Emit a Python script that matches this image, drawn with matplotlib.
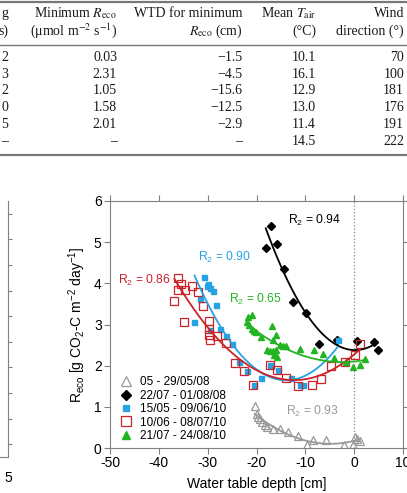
import matplotlib
matplotlib.use("Agg")
import matplotlib.pyplot as plt
import numpy as np

plt.rcParams['font.family'] = ['Liberation Sans', 'DejaVu Sans']
plt.rcParams['mathtext.fontset'] = 'custom'
plt.rcParams['mathtext.rm'] = 'Liberation Sans'
plt.rcParams['mathtext.it'] = 'Liberation Sans:italic'
plt.rcParams['mathtext.bf'] = 'Liberation Sans:bold'
plt.rcParams['axes.unicode_minus'] = False

# ---- table (top of the page) ----
col0_vals = ['2', '3', '2', '0', '5', '–']
min_reco = ['0.03', '2.31', '1.05', '1.58', '2.01', '–']
wtd_min = ['−1.5', '−4.5', '−15.6', '−12.5', '−2.9', '–']
mean_tair = ['10.1', '16.1', '12.9', '13.0', '11.4', '14.5']
wind_dir = ['70', '100', '181', '176', '191', '222']

# ---- chart data: water table depth (cm) vs Reco ----
gray_wtd = [-20.4, -19.8, -19.6, -19.3, -18.9, -18.3, -17.9, -16.7, -15.1, -13.6,
            -11.6, -9.6, -8.5, -5.7, -2.0, -0.3, 0.1, 0.6, 1.1]
gray_reco = [1.02, 0.82, 0.76, 0.70, 0.62, 0.55, 0.52, 0.47, 0.45, 0.38,
             0.28, 0.08, 0.20, 0.20, 0.08, 0.08, 0.27, 0.21, 0.17]

black_wtd = [-17.0, -18.1, -15.7, -14.4, -12.6, -9.9, -7.1, -3.5, 0.5, 4.0, 4.8]
black_reco = [5.40, 4.85, 4.96, 4.34, 3.54, 3.29, 2.53, 2.62, 2.61, 2.58, 2.38]

blue_wtd = [-30.7, -29.9, -30.2, -29.0, -29.6, -31.5, -28.3, -32.7, -29.5, -27.5, -26.2,
            -25.0, -23.6, -22.0, -20.5, -19.0, -17.3, -15.6, -13.0, -10.5, -11.1, -3.4]
blue_reco = [4.15, 3.99, 3.93, 3.81, 3.88, 3.62, 3.48, 3.05, 2.87, 2.89, 2.73,
             2.52, 2.08, 1.88, 1.53, 1.71, 2.01, 1.89, 1.71, 1.53, 1.52, 2.62]

red_wtd = [-36.0, -35.5, -36.1, -36.8, -34.6, -33.3, -32.0, -30.9, -34.8, -29.7, -29.7,
           -29.65, -29.5, -28.0, -26.3, -24.5, -22.5, -20.8, -17.2, -15.7, -14.0, -11.4,
           -8.7, -6.7, -4.8, -1.8, 0.1, 1.2]
red_reco = [4.13, 3.98, 3.85, 3.58, 3.83, 3.93, 3.80, 3.45, 3.05, 3.09, 2.88,
            2.74, 2.62, 2.73, 2.54, 2.07, 1.87, 1.53, 2.01, 1.89, 1.71, 1.51,
            1.53, 1.68, 2.00, 2.08, 2.27, 2.52]

green_wtd = [-21.0, -21.7, -22.0, -21.5, -21.0, -20.6, -20.2, -19.1, -16.9, -16.0, -16.6,
             -17.9, -17.3, -16.7, -16.0, -16.4, -15.8, -15.2, -14.6, -14.0, -11.1, -8.2,
             -6.3, -4.2, -1.7, -0.2, 1.1, 2.3]
green_reco = [3.24, 3.19, 3.07, 2.98, 2.90, 2.85, 2.82, 2.70, 2.97, 2.74, 2.62,
              2.38, 2.36, 2.35, 2.38, 2.27, 2.22, 2.50, 2.48, 2.48, 2.40, 2.38,
              2.29, 2.19, 2.10, 1.96, 2.01, 2.16]

labels = ['05 - 29/05/08', '22/07 - 01/08/08', '15/05 - 09/06/10',
          '10/06 - 08/07/10', '21/07 - 24/08/10']
r2_text = ['0.93', '0.94', '0.90', '0.86', '0.65']

fig = plt.figure(figsize=(4.07, 4.93), dpi=100)
W, H = 407.0, 493.0

# table
tc = '#1a1a1a'
tkw = dict(fontfamily='Liberation Serif', math_fontfamily='stix', fontsize=10,
           color=tc, ha='right', va='center')
col_right = [8.5, 117, 242.5, 316, 404]
head1 = ['g', r'Minimum $R_{\mathrm{eco}}$', 'WTD for minimum', r'Mean $T_{\mathrm{air}}$', 'Wind']
head2 = ['s)', r'(μmol m$^{-2}$ s$^{-1}$)', r'$R_{\mathrm{eco}}$ (cm)', '(°C)', 'direction (°)']
for xr, h1, h2 in zip(col_right, head1, head2):
    fig.text(xr / W, 1 - 13.5 / H, h1, **tkw)
    fig.text(xr / W, 1 - 31 / H, h2, **tkw)
row_y = [57.3, 74, 91, 107.7, 124.3, 141.5]
cols = [col0_vals, min_reco, wtd_min, mean_tair, wind_dir]
for xr, vals in zip(col_right, cols):
    for yy, v in zip(row_y, vals):
        fig.text(xr / W, 1 - yy / H, v, **tkw)
for yy, lw in [(1.5, 1.6), (45, 1.0), (155, 1.6)]:
    fig.add_artist(plt.Line2D([0, 1], [1 - yy / H, 1 - yy / H], color='#777777', lw=lw,
                              transform=fig.transFigure))

# partial panel on the left (only its right axis is visible)
axl = fig.add_axes([-0.5, (H - 457) / H, 0.5 + 8 / W, 256 / H])
axl.set_ylim(0, 10)
axl.set_xlim(-100, 5)
for s in ['left', 'top']:
    axl.spines[s].set_visible(False)
for s in ['right', 'bottom']:
    axl.spines[s].set_color('#808080')
    axl.spines[s].set_linewidth(0.8)
axl.patch.set_visible(False)
axl.yaxis.tick_right()
axl.set_yticks([0, 5, 10])
axl.set_yticks([1, 2, 3, 4, 6, 7, 8, 9], minor=True)
axl.tick_params(axis='y', which='major', direction='inout', length=14, color='#808080',
                labelright=False)
axl.tick_params(axis='y', which='minor', direction='out', length=5, color='#808080')
axl.set_xticks([5])
axl.tick_params(axis='x', length=0, labelsize=10, pad=10)
axl2 = axl.twinx()
axl2.set_ylim(0, 10)
axl2.set_yticks(np.arange(0.5, 10, 1))
axl2.tick_params(axis='y', direction='out', length=3, color='#808080', labelright=False)
for s in axl2.spines.values():
    s.set_visible(False)
axl2.patch.set_visible(False)

# main chart
ax = fig.add_axes([110 / W, 45 / H, 293 / W, 247 / H])
ax.set_xlim(-50, 10)
ax.set_ylim(0, 6)
ax.axvline(0, color='#888888', ls=':', lw=0.9, zorder=1)

series = [
    (gray_wtd, gray_reco, '#999999', dict(marker='^', ms=5.5, mfc='none', mec='#999999', mew=0.9)),
    (black_wtd, black_reco, '#000000', dict(marker='D', ms=4.2, mfc='#000000', mec='#000000')),
    (blue_wtd, blue_reco, '#27A3E3', dict(marker='s', ms=3.6, mfc='#27A3E3', mec='#27A3E3')),
    (red_wtd, red_reco, '#CC2229', dict(marker='s', ms=5.2, mfc='none', mec='#CC2229', mew=0.9)),
    (green_wtd, green_reco, '#22B422', dict(marker='^', ms=4.6, mfc='#22B422', mec='#22B422')),
]
for (xs, ys, c, mk), lab in zip(series, labels):
    ax.plot(xs, ys, ls='none', label=lab, **mk)
for xs, ys, c, mk in series:
    coef = np.polyfit(xs, ys, 2)
    xf = np.linspace(min(xs), max(xs), 100)
    ax.plot(xf, np.polyval(coef, xf), color=c, lw=1.3)

r2_pos = [(-14.0, 0.88), (-13.5, 5.52), (-32.0, 4.62), (-48.3, 4.06), (-25.6, 3.62)]
for (xp, yp), t, (xs, ys, c, mk) in zip(r2_pos, r2_text, series):
    ax.text(xp, yp, 'R$_2$ = ' + t, color=c, fontsize=8.7, ha='left', va='center')

ax.set_xticks([-50, -40, -30, -20, -10, 0, 10])
ax.set_yticks([0, 1, 2, 3, 4, 5, 6])
ax.tick_params(direction='out', top=True, right=True, length=4, width=0.8,
               color='#808080', labelsize=10, pad=2)
for s in ax.spines.values():
    s.set_color('#808080')
    s.set_linewidth(0.8)

leg = ax.legend(loc='upper left', bbox_to_anchor=(0.03, 0.29), frameon=False,
                fontsize=8.5, handlelength=1.2, handletextpad=0.6, labelspacing=0.12,
                borderpad=0, borderaxespad=0, markerscale=1.25)

fig.text(77 / W, 1 - 325 / H,
         r'R$_{\mathrm{eco}}$ [g CO$_2$-C m$^{-2}$ day$^{-1}$]',
         rotation=90, ha='center', va='center', fontsize=10)
fig.text(257 / W, 1 - 484 / H, 'Water table depth [cm]', ha='center', va='center',
         fontsize=10)

fig.savefig('out.png', dpi=100)
